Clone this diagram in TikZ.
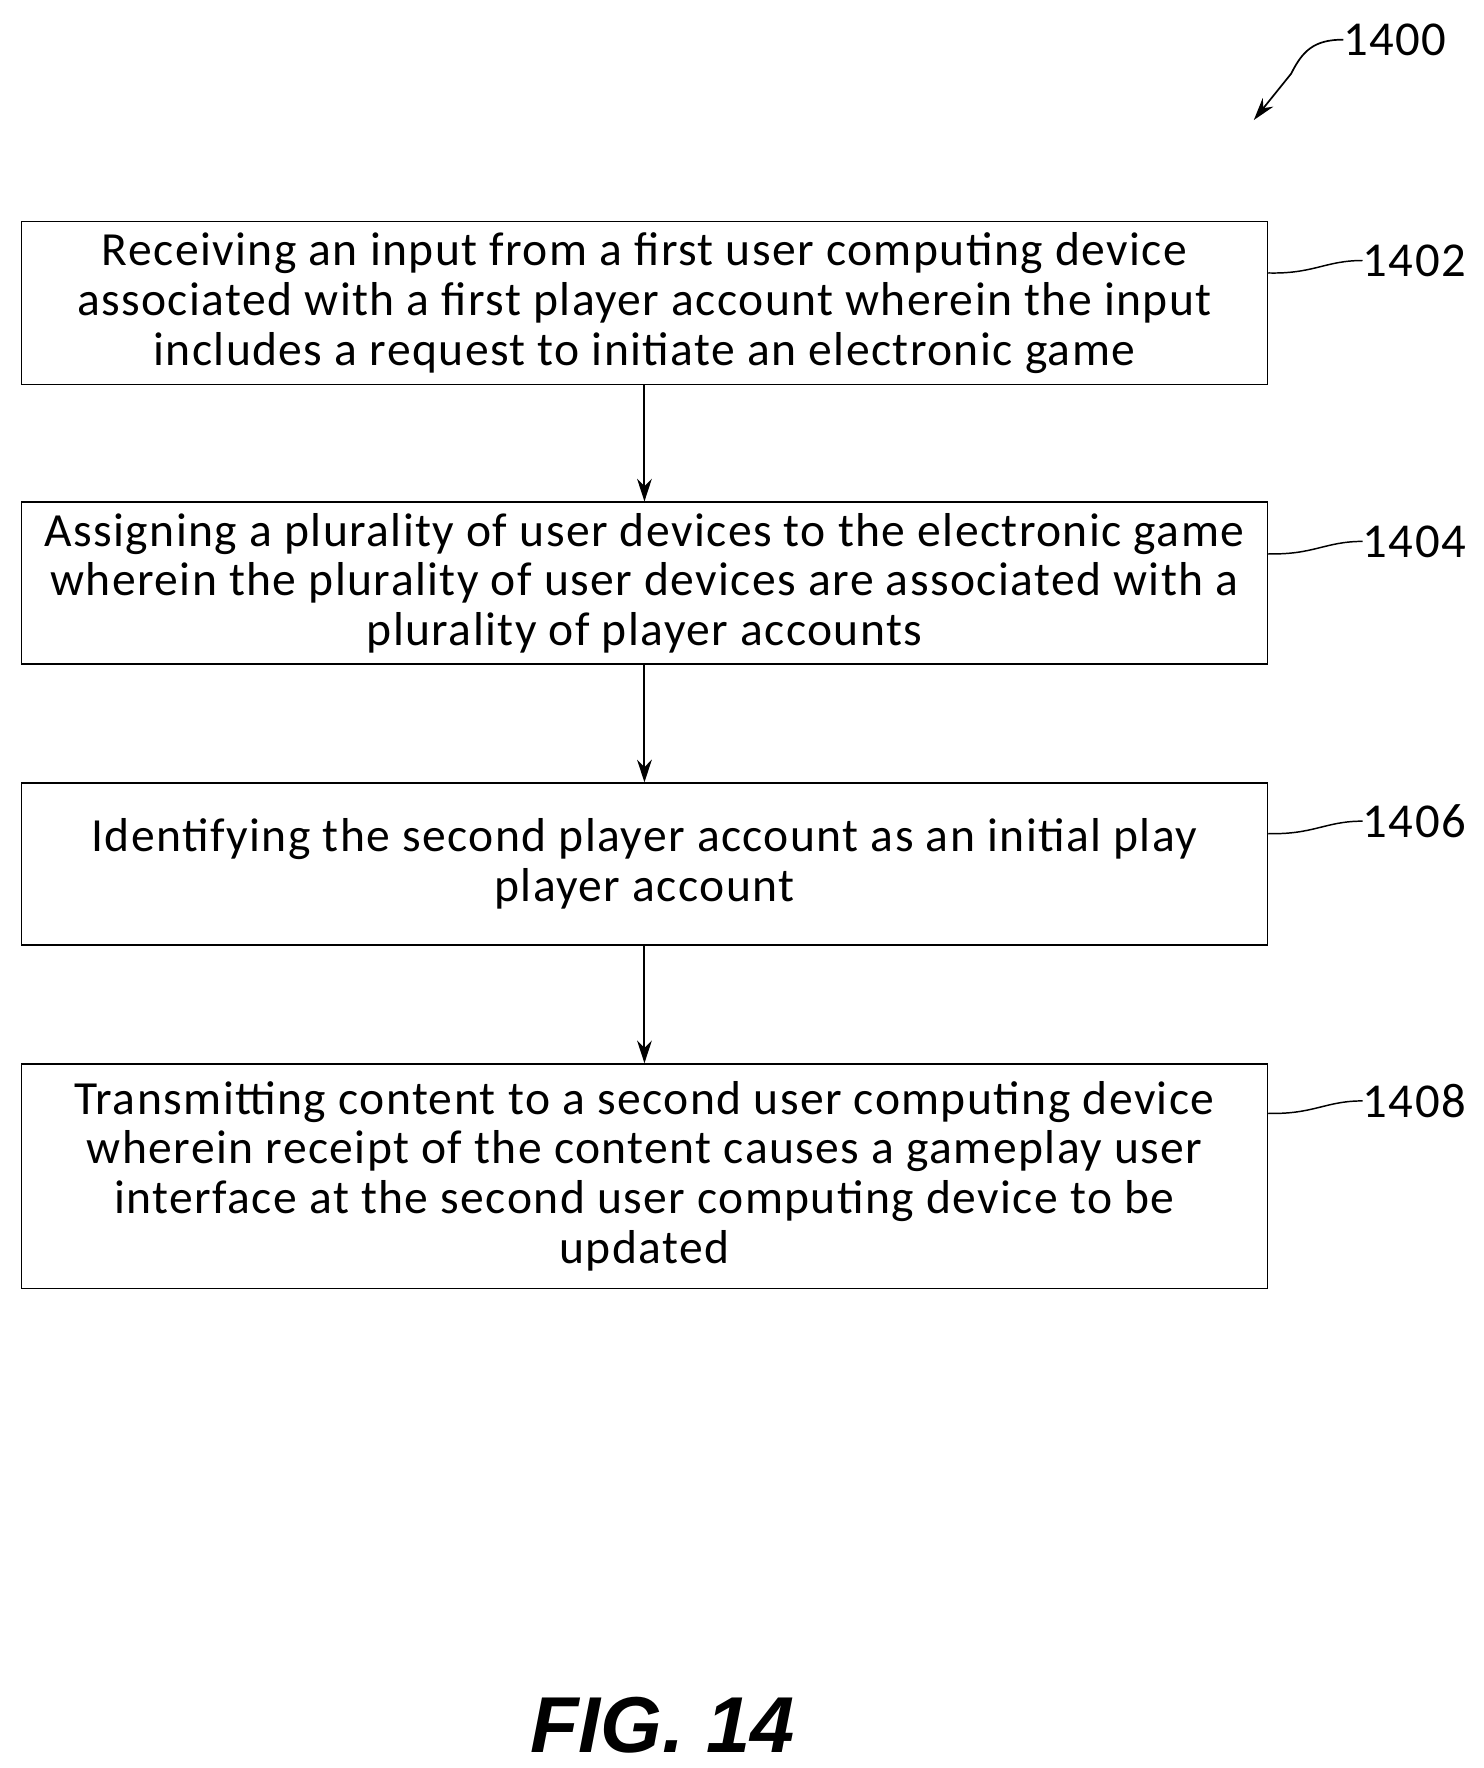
\documentclass[tikz,border=0pt]{standalone}
\usepackage{fontspec}
\setmainfont{Carlito}
\newfontfamily\boxfont[LetterSpace=3]{Carlito}
\newfontfamily\figfont{Liberation Sans}
\usetikzlibrary{arrows.meta}
\begin{document}
\begin{tikzpicture}[x=1pt,y=-1pt,
  box/.style={draw,line width=1.5pt,minimum width=1100pt,align=center,font=\boxfont\fontsize{42}{44}\selectfont,inner sep=0pt},
  arr/.style={line width=1.8pt,-{Stealth[length=20pt,width=13pt]}},
  lbl/.style={font=\boxfont\fontsize{43}{44}\selectfont,anchor=west,inner sep=0pt},
  lead/.style={line width=1.3pt}]
\useasboundingbox (0,0) rectangle (1310,1561);
\node[box,minimum height=144pt] (b1) at (569,267.5) {Receiving an input from a first user computing device\\associated with a first player account wherein the input\\includes a request to initiate an electronic game};
\node[box,minimum height=143pt] (b2) at (569,515) {Assigning a plurality of user devices to the electronic game\\wherein the plurality of user devices are associated with a\\plurality of player accounts};
\node[box,minimum height=143pt] (b3) at (569,763) {Identifying the second player account as an initial play\\player account};
\node[box,minimum height=198pt] (b4) at (569,1038.5) {Transmitting content to a second user computing device\\wherein receipt of the content causes a gameplay user\\interface at the second user computing device to be\\updated};
\draw[arr] (b1) -- (b2);
\draw[arr] (b2) -- (b3);
\draw[arr] (b3) -- (b4);
\foreach \b/\t/\y in {b1/1402/230,b2/1404/478,b3/1406/725,b4/1408/972}{
  \node[lbl] (l\t) at (1203,\y) {\t};
  \draw[lead] (\b.east |- 0,\y+11) .. controls (1160,\y+12) and (1170,\y) .. (l\t.west);
}
\node[lbl] (l1400) at (1186,35) {1400};
\coordinate (a1400) at (1107,106);
\draw[line width=1.5pt,-{Stealth[length=20pt,width=12pt]}] (l1400.west) .. controls (1160,35) and (1150,45) .. (1140,65) -- (a1400);
\node[font=\figfont\bfseries\itshape\fontsize{70}{74}\selectfont] (fig) at (585,1523) {FIG. 14};
\end{tikzpicture}
\end{document}
